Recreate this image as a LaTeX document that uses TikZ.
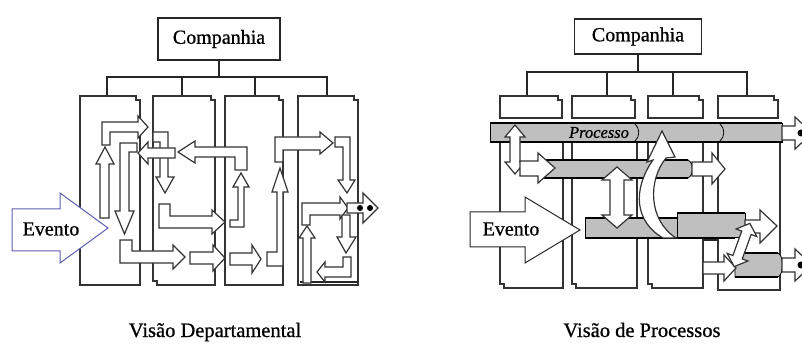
\documentclass[tikz,border=0pt]{standalone}
\usepackage{fontspec}
\setmainfont{Liberation Serif}
\newfontfamily\heavyfont{Liberation Serif}[FakeBold=0.8]
\begin{document}
\begin{tikzpicture}[x=1pt,y=-1pt,
  ln/.style={draw=black!85,line width=1.1pt},
  colbox/.style={draw=black!80,line width=1.1pt,fill=white},
  barr/.style={fill=white,draw=black!80,line width=1.2pt,line join=miter},
  procbar/.style={fill=black!25,draw=black,line width=0.8pt},
  thk/.style={draw=black,line width=2.2pt},
  bigtxt/.style={font=\heavyfont\fontsize{20}{24}\selectfont},
  labtxt/.style={font=\heavyfont\fontsize{20.5}{24}\selectfont},
  compbox/.style={draw=black!85,line width=1.1pt,fill=white,inner sep=0pt,bigtxt}]
\useasboundingbox (0,0) rectangle (802,344);
\clip (0,0) rectangle (802,344);
\fill[white] (0,0) rectangle (802,344);

%================ LEFT: Visao Departamental ================
\node[compbox,minimum width=122pt,minimum height=42pt] (comp1) at (219,39) {Companhia};
\coordinate (lt) at (219,77);
\draw[ln] (comp1.south) -- (lt);
\draw[ln] (107,96) -- (107,77) -- (327,77) -- (327,96);
\draw[ln] (182,77) -- (182,96);
\draw[ln] (255,77) -- (255,96);

% columns
\draw[colbox] (80,96) -- (136,96) -- (136,100) -- (140,100) -- (140,285) -- (80,285) -- cycle;
\draw[colbox] (153,96) -- (211,96) -- (211,100) -- (215,100) -- (215,285) -- (157,285) -- (157,281) -- (153,281) -- cycle;
\draw[colbox] (225,96) -- (279,96) -- (279,100) -- (283,100) -- (283,285) -- (225,285) -- cycle;
\draw[colbox] (298,96) -- (354,96) -- (354,100) -- (358,100) -- (358,285) -- (298,285) -- cycle;
\draw[ln] (300,282) -- (358,282);

% block arrows
\draw[barr] (102,145) -- (102,122) -- (138,122) -- (138,116) -- (148,127) -- (138,138) -- (138,132) -- (110,132) -- (110,145) -- cycle;
\draw[barr] (100,218) -- (100,164) -- (96,164) -- (105,147) -- (114,164) -- (109,164) -- (109,218) -- cycle;
\draw[barr] (120,211) -- (120,143) -- (137,143) -- (137,152) -- (129,152) -- (129,211) -- (134,211) -- (124.5,234) -- (115,211) -- cycle;
\draw[barr] (153,132) -- (168,132) -- (168,177) -- (174,177) -- (165,193) -- (156,177) -- (160,177) -- (160,142) -- (153,142) -- cycle;
\draw[barr] (175,148) -- (175,158) -- (148,158) -- (148,164) -- (138,153) -- (148,142) -- (148,148) -- cycle;
\draw[barr] (247,147) -- (247,170) -- (235,170) -- (235,157) -- (195,157) -- (195,163) -- (178,152) -- (195,141) -- (195,147) -- cycle;
\draw[barr] (159,204) -- (170,204) -- (170,216) -- (212,216) -- (212,210) -- (225,222) -- (212,234) -- (212,228) -- (159,228) -- cycle;
\draw[barr] (230,220) -- (238,220) -- (238,187) -- (233,187) -- (241,173) -- (249,187) -- (244,187) -- (244,227) -- (230,227) -- cycle;
\draw[barr] (120,240) -- (132,240) -- (132,251) -- (173,251) -- (173,245) -- (185,257) -- (173,269) -- (173,263) -- (120,263) -- cycle;
\draw[barr] (190,252) -- (213,252) -- (213,245) -- (225,258) -- (213,271) -- (213,264) -- (190,264) -- cycle;
\draw[barr] (230,253) -- (252,253) -- (252,245) -- (261,259) -- (252,273) -- (252,265) -- (230,265) -- cycle;
\draw[barr] (275,162) -- (275,137) -- (320,137) -- (320,132) -- (333,143) -- (320,154) -- (320,150) -- (283,150) -- (283,162) -- cycle;
\draw[barr] (267,252) -- (277,252) -- (277,192) -- (272,192) -- (280,168) -- (288,192) -- (283,192) -- (283,266) -- (267,266) -- cycle;
\draw[barr] (335,137) -- (350,137) -- (350,180) -- (355,180) -- (347,193) -- (338,180) -- (343,180) -- (343,147) -- (335,147) -- cycle;
\draw[barr] (302,225) -- (302,203) -- (340,203) -- (340,197) -- (348,208) -- (340,219) -- (340,215) -- (310,215) -- (310,225) -- cycle;
\draw[barr] (342,215) -- (350,215) -- (350,237) -- (356,237) -- (346,253) -- (337,237) -- (342,237) -- cycle;
\draw[barr] (347,203) -- (363,203) -- (363,193) -- (378,208) -- (363,223) -- (363,213) -- (347,213) -- cycle;
\fill (360,208) circle (3pt) (370,208) circle (3pt);
\draw[barr] (303,283) -- (303,238) -- (299,238) -- (307,226) -- (315,238) -- (311,238) -- (311,283) -- cycle;
\draw[barr] (351,257) -- (351,277) -- (325,277) -- (325,282) -- (317,272) -- (325,262) -- (325,267) -- (343,267) -- (343,257) -- cycle;

% Evento (left)
\draw[fill=white,draw={rgb,255:red,95;green,95;blue,175},line width=1pt]
  (12,209) -- (60,209) -- (60,193) -- (108,228) -- (60,263) -- (60,251) -- (12,251) -- cycle;
\node[bigtxt] (ev1) at (51,229) {Evento};

\node[labtxt,anchor=base] (lab1) at (215,337) {Visão Departamental};

%================ RIGHT: Visao de Processos ================
\node[compbox,minimum width=127pt,minimum height=35pt] (comp2) at (638,36.5) {Companhia};
\coordinate (rt) at (638,72);
\draw[ln] (comp2.south) -- (rt);
\draw[ln] (527,96) -- (527,72) -- (747,72) -- (747,96);
\draw[ln] (607,72) -- (607,96);
\draw[ln] (673,72) -- (673,96);

% headers
\draw[colbox] (500,96) -- (558,96) -- (558,100) -- (562,100) -- (562,118) -- (500,118) -- cycle;
\draw[colbox] (572,96) -- (631,96) -- (631,100) -- (635,100) -- (635,118) -- (572,118) -- cycle;
\draw[colbox] (648,96) -- (699,96) -- (699,100) -- (703,100) -- (703,118) -- (648,118) -- cycle;
\draw[colbox] (718,96) -- (774,96) -- (774,100) -- (778,100) -- (778,118) -- (718,118) -- cycle;
% bodies
\draw[colbox] (500,142) -- (563,142) -- (563,288) -- (504,288) -- (504,284) -- (500,284) -- cycle;
\draw[colbox] (572,142) -- (637,142) -- (637,288) -- (576,288) -- (576,284) -- (572,284) -- cycle;
\draw[colbox] (648,142) -- (703,142) -- (703,288) -- (652,288) -- (652,284) -- (648,284) -- cycle;
\draw[colbox] (718,142) -- (780,142) -- (780,290) -- (718,290) -- cycle;
\draw[ln] (703,240) -- (718,240);

% process bars
\draw[procbar] (490,123) rectangle (782,142);
\draw[thk] (490,123) -- (782,123);
\draw[thk,line width=1.8pt] (490,142) -- (782,142);
\draw[line width=0.8pt] (635,124) .. controls (640,128) and (640,137) .. (635,141);
\draw[line width=0.8pt] (720,124) .. controls (725,128) and (725,137) .. (720,141);
\node[font=\heavyfont\fontsize{16.5}{18}\selectfont\itshape] (proc) at (599,132.5) {Processo};

\draw[procbar] (543,160) -- (688,160) .. controls (694,163) and (694,175) .. (688,178) -- (543,178) -- cycle;
\draw[thk] (543,160) -- (688,160);
\draw[thk,line width=1.8pt] (543,178) -- (688,178);

\draw[procbar] (585,218) rectangle (677,238);
\draw[thk] (585,218) -- (677,218);
\draw[procbar] (677,213) rectangle (745,237);
\draw[thk] (677,213) -- (745,213);
\draw[thk,line width=1.8pt] (585,238) -- (735,238);

\draw[procbar] (735,253) -- (778,253) .. controls (784,256) and (784,274) .. (778,277) -- (735,277) -- cycle;
\draw[thk] (735,253) -- (778,253);
\draw[thk,line width=1.8pt] (735,277) -- (778,277);

% arrows
\draw[barr] (515,125) -- (525,137) -- (520,137) -- (520,162) -- (525,162) -- (515,174) -- (505,162) -- (510,162) -- (510,137) -- (505,137) -- cycle;
\draw[barr] (520,161) -- (538,161) -- (538,153) -- (555,168) -- (538,183) -- (538,176) -- (520,176) -- cycle;
\draw[barr] (617,167) -- (632,180) -- (624,180) -- (624,215) -- (632,215) -- (617,228) -- (602,215) -- (610,215) -- (610,180) -- (602,180) -- cycle;
\draw[barr] (692,162) -- (712,162) -- (712,153) -- (725,169) -- (712,184) -- (712,176) -- (692,176) -- cycle;
\draw[barr] (745,220) -- (760,220) -- (760,210) -- (777,226) -- (760,243) -- (760,233) -- (745,233) -- cycle;
\draw[barr] (703,262) -- (724,262) -- (724,255) -- (736,268) -- (724,281) -- (724,274) -- (703,274) -- cycle;
\begin{scope}[rotate around={-20:(742,245)}]
\draw[barr] (742,222) -- (753,232) -- (747,232) -- (747,258) -- (753,258) -- (742,268) -- (731,258) -- (737,258) -- (737,232) -- (731,232) -- cycle;
\end{scope}
\draw[barr] (782,126) -- (795,126) -- (795,117) -- (812,133) -- (795,149) -- (795,140) -- (782,140) -- cycle;
\fill (801,133) circle (3.5pt);
\draw[barr] (782,258) -- (795,258) -- (795,249) -- (812,265) -- (795,281) -- (795,272) -- (782,272) -- cycle;
\fill (801,265) circle (3.5pt);

% curved arrow
\draw[barr] (663,238) .. controls (635,222) and (632,190) .. (653,160) -- (647,162) -- (662,131) -- (675,157) -- (666,158) .. controls (648,180) and (648,220) .. (676,238) -- cycle;

% Evento (right)
\draw[fill=white,draw=black!85,line width=1pt]
  (470,212) -- (525,212) -- (525,197) -- (580,230) -- (525,263) -- (525,247) -- (470,247) -- cycle;
\node[bigtxt] (ev2) at (511,229) {Evento};

\node[labtxt,anchor=base] (lab2) at (642,337) {Visão de Processos};
\end{tikzpicture}
\end{document}
